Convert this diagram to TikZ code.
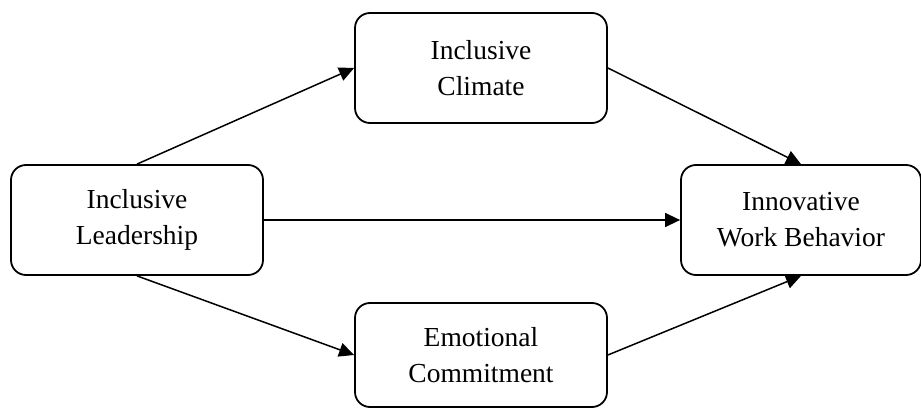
\documentclass[tikz,border=0pt]{standalone}
\usepackage{fontspec}
\setmainfont{Liberation Serif}
\usepackage{tikz}
\usetikzlibrary{arrows.meta}

\begin{document}
\begin{tikzpicture}[x=1pt,y=-1pt,
    box/.style={draw,line width=1.8pt,rounded corners=15pt,align=center,
      minimum width=252pt,minimum height=110pt,inner sep=0pt,
      font=\fontsize{27.5}{36}\selectfont},
    link/.style={line width=1.5pt,-{Triangle[length=15pt,width=14pt]}}]
        \useasboundingbox (0,0) rectangle (921,409);
        \node[box] (lead) at (137,220) {Inclusive\\Leadership};
        \node[box] (clim) at (481,68) {Inclusive\\Climate};
        \node[box,minimum height=104pt] (emo) at (481,355) {Emotional\\Commitment};
        \node[box,minimum width=240pt] (inno) at (801,220) {Innovative\\Work Behavior};
        \draw[link] (lead.north) -- (clim.west);
        \draw[link] (lead.east) -- (inno.west);
        \draw[link] (lead.south) -- (emo.west);
        \draw[link] (clim.east) -- (inno.north);
        \draw[link] (emo.east) -- (inno.south);
      \end{tikzpicture}
\end{document}
